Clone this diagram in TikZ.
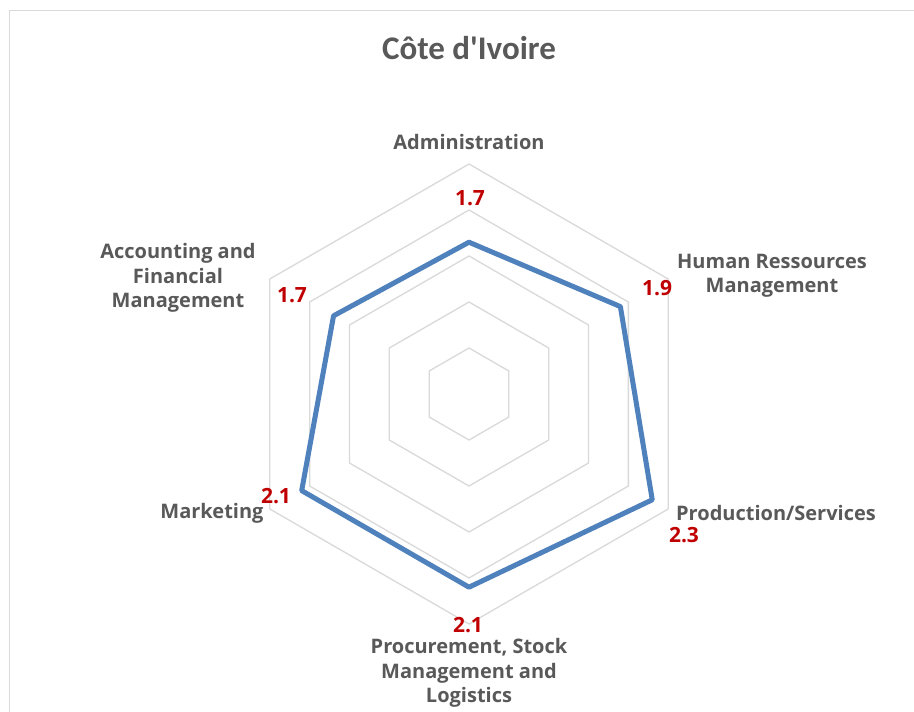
\documentclass[tikz,border=0pt]{standalone}
\usepackage{fontspec}
\setmainfont{Open Sans}
\newfontfamily\titlefont{Carlito}
\definecolor{gridgray}{HTML}{D9D9D9}
\definecolor{labelgray}{HTML}{595959}
\definecolor{valred}{HTML}{C00000}
\definecolor{serblue}{HTML}{4F81BD}
\tikzset{
  gridline/.style={draw=gridgray, line width=1.3pt},
  axislabel/.style={text=labelgray, font=\bfseries\fontsize{20}{24.5}\selectfont, align=center, inner sep=0pt},
  vallabel/.style={text=valred, font=\bfseries\fontsize{21}{24}\selectfont, inner sep=0pt},
  serline/.style={draw=serblue, line width=5pt, line join=round},
  frameline/.style={draw=gridgray, line width=1.5pt}
}
\begin{document}
\begin{tikzpicture}[x=1pt,y=-1pt]
\useasboundingbox (0,0) rectangle (914,712);
\fill[white] (0,0) rectangle (914,712);
\coordinate (fbl) at (9.5,712);
\coordinate (ftl) at (9.5,10.5);
\coordinate (ftr) at (914,10.5);
\draw[frameline] (fbl) -- (ftl) -- (ftr);

\node[text=labelgray, font=\titlefont\bfseries\fontsize{33}{38}\selectfont, inner sep=0pt] (title) at (469,48) {Côte d'Ivoire};

\begin{scope}[shift={(469,394)}]
  \foreach \r in {46,92,138,184,230}
    \draw[gridline] (-90:\r) -- (-30:\r) -- (30:\r) -- (90:\r) -- (150:\r) -- (210:\r) -- cycle;
  \coordinate (pA) at (-90:151.8);
  \coordinate (pH) at (-30:174.8);
  \coordinate (pP) at (30:211.6);
  \coordinate (pS) at (90:193.2);
  \coordinate (pM) at (150:193.2);
  \coordinate (pF) at (210:156.4);
  \draw[serline] (pA) -- (pH) -- (pP) -- (pS) -- (pM) -- (pF) -- cycle;
\end{scope}

\node[axislabel] (lA) at (469,142) {Administration};
\node[axislabel] (lH) at (772,276) {Human Ressources\\Management};
\node[axislabel] (lP) at (776,513) {Production/Services};
\node[axislabel] (lS) at (469,673) {Procurement, Stock\\Management and\\Logistics};
\node[axislabel] (lM) at (212,513) {Marketing};
\node[axislabel] (lF) at (178,278) {Accounting and\\Financial\\Management};

\node[vallabel] (vA) at (470,198) {1.7};
\node[vallabel] (vH) at (657,288) {1.9};
\node[vallabel] (vP) at (684,535) {2.3};
\node[vallabel] (vS) at (468,625) {2.1};
\node[vallabel] (vM) at (276,496) {2.1};
\node[vallabel] (vF) at (292,295) {1.7};
\end{tikzpicture}
\end{document}
